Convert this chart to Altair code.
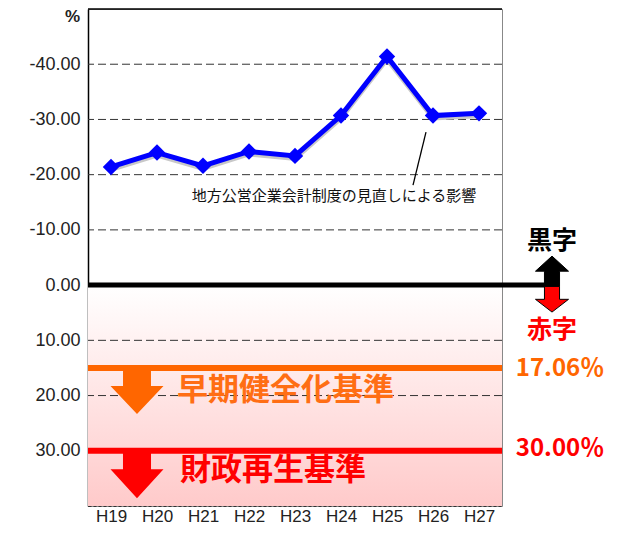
import altair as alt
import pandas as pd

# ---- data ----
years = ["H19", "H20", "H21", "H22", "H23", "H24", "H25", "H26", "H27"]
ratios = [-21.4, -24.0, -21.6, -24.2, -23.4, -30.7, -41.4, -30.7, -31.1]
y_ticks = [-40, -30, -20, -10, 0, 10, 20, 30]
grid_vals = [-40, -30, -20, -10, 10, 20]
y_top = -50
early_level = 15.0
early_label = "17.06％"
rebuild_level = 30.0
rebuild_label = "30.00％"
note_text = "地方公営企業会計制度の見直しによる影響"

W, H = 414, 497
ys = alt.Scale(domain=[-50, 40], reverse=True, nice=False, zero=False)
JP = "Noto Sans CJK JP"
ORANGE = "#FF6600"
RED = "#FF0000"

df = pd.DataFrame({"year": years, "v": ratios})

yaxis = alt.Axis(values=y_ticks, format=".2f", grid=False, ticks=False, labelFontSize=18,
                 labelExpr="replace(datum.label, '\u2212', '-')",
                 labelFont="Liberation Sans", labelColor="#222222", labelPadding=8,
                 domainColor="black", domainWidth=1.5,
                 title="%", titleAngle=0, titleX=-16, titleY=-1, titleAlign="center",
                 titleBaseline="top", titleFontSize=17, titleFontWeight="bold",
                 titleFont="Liberation Sans", titleColor="#222222")

def Y(field="v:Q"):
    return alt.Y(field, scale=ys, axis=yaxis)

xenc = alt.X("year:N", sort=years, scale=alt.Scale(type="point", padding=0.5),
             axis=alt.Axis(labelAngle=0, ticks=False, labelFontSize=17, labelColor="#222222",
                           labelFont="Liberation Sans", labelPadding=2, title=None,
                           domainColor="#333333", domainDash=[3, 2]))

# background gradient below zero
bg = alt.Chart(pd.DataFrame({"v": [0.0], "v2": [40.0]})).mark_rect(
    color={"gradient": "linear", "x1": 0, "y1": 0, "x2": 0, "y2": 1,
           "stops": [{"offset": 0, "color": "#ffffff"}, {"offset": 1, "color": "#ffcaca"}]}
).encode(x=alt.value(0), x2=alt.value(W), y=Y(), y2="v2:Q")

grid = alt.Chart(pd.DataFrame({"v": grid_vals})).mark_rule(
    color="#333333", strokeWidth=1, strokeDash=[8, 4]
).encode(y=Y())

top_border = alt.Chart(pd.DataFrame({"v": [y_top]})).mark_rule(
    color="black", strokeWidth=1.5
).encode(y=Y())

thresh = alt.Chart(pd.DataFrame({"v": [early_level, rebuild_level], "c": [ORANGE, RED]})).mark_rule(
    strokeWidth=6
).encode(y=Y(), color=alt.Color("c:N", scale=None))

zero = alt.Chart(pd.DataFrame({"v": [0.0]})).mark_rule(color="black", strokeWidth=5).encode(
    y=Y(), x=alt.value(0), x2=alt.value(457)
)

arrow_o = "M-0.304,0 L0.304,0 L0.304,0.39 L0.576,0.39 L0,1 L-0.576,0.39 L-0.304,0.39 Z"
arrow_r = "M-0.295,0 L0.295,0 L0.295,0.39 L0.558,0.39 L0,1 L-0.558,0.39 L-0.295,0.39 Z"
a1 = alt.Chart(pd.DataFrame({"v": [early_level]})).mark_point(
    shape=arrow_o, filled=True, opacity=1, color=ORANGE, size=8464, strokeWidth=0
).encode(x=alt.value(49), y=Y())
a2 = alt.Chart(pd.DataFrame({"v": [rebuild_level]})).mark_point(
    shape=arrow_r, filled=True, opacity=1, color=RED, size=9025, strokeWidth=0
).encode(x=alt.value(49), y=Y())

up_path = "M0,-1 L0.57,-0.48 L0.26,-0.48 L0.26,0.045 L-0.26,0.045 L-0.26,-0.48 L-0.57,-0.48 Z"
dn_path = "M-0.26,0.045 L0.26,0.045 L0.26,0.49 L0.57,0.49 L0,0.93 L-0.57,0.49 L-0.26,0.49 Z"
up = alt.Chart(pd.DataFrame({"v": [0.0]})).mark_point(
    shape=up_path, filled=True, opacity=1, fill="black", stroke="black", strokeWidth=1, size=3364
).encode(x=alt.value(464), y=Y())
dn = alt.Chart(pd.DataFrame({"v": [0.0]})).mark_point(
    shape=dn_path, filled=True, opacity=1, fill=RED, stroke="black", strokeWidth=1, size=3364
).encode(x=alt.value(464), y=Y())

shadow = alt.Chart(df).transform_calculate(s="datum.v + 0.45").mark_line(
    color="#c8c8c8", strokeWidth=5
).encode(x=xenc, y=Y("s:Q"))
line = alt.Chart(df).mark_line(color="#0000FF", strokeWidth=5).encode(x=xenc, y=Y())
pts = alt.Chart(df).mark_point(
    shape="diamond", filled=True, opacity=1, color="#0000FF", size=270, strokeWidth=0
).encode(x=xenc, y=Y())

leader = alt.Chart(pd.DataFrame({"v": [-27.7], "v2": [-18.1]})).mark_rule(
    color="black", strokeWidth=1.3
).encode(x=alt.value(338), x2=alt.value(325), y=Y(), y2="v2:Q")

def label(text, xpx, v, size, color, align="center", weight="bold", font=JP):
    return alt.Chart(pd.DataFrame({"v": [v], "t": [text]})).mark_text(
        fontSize=size, fontWeight=weight, color=color, align=align, baseline="middle", font=font
    ).encode(x=alt.value(xpx), y=Y(), text="t:N")

texts = [
    label(note_text, 246, -16.2, 15, "#111111", weight="normal"),
    label("早期健全化基準", 89, 19.1, 31, "#FF6E14", align="left"),
    label("財政再生基準", 92, 33.75, 31, RED, align="left"),
    label("黒字", 464, -7.9, 25, "black"),
    label("赤字", 464, 8.1, 25, RED),
    label(early_label, 472, 15.2, 24, ORANGE),
    label(rebuild_label, 472, 29.6, 24, RED),
]

chart = alt.layer(
    bg, grid, top_border, thresh, a1, a2, zero, up, dn, shadow, line, pts, leader, *texts
).properties(
    width=W, height=H,
    autosize=alt.AutoSizeParams(type="none"),
    padding={"left": 80, "top": 1, "right": 112, "bottom": 18},
).configure_view(stroke="#888888", strokeWidth=1)

chart.save("out.html", embed_options={"renderer": "svg", "actions": False})
